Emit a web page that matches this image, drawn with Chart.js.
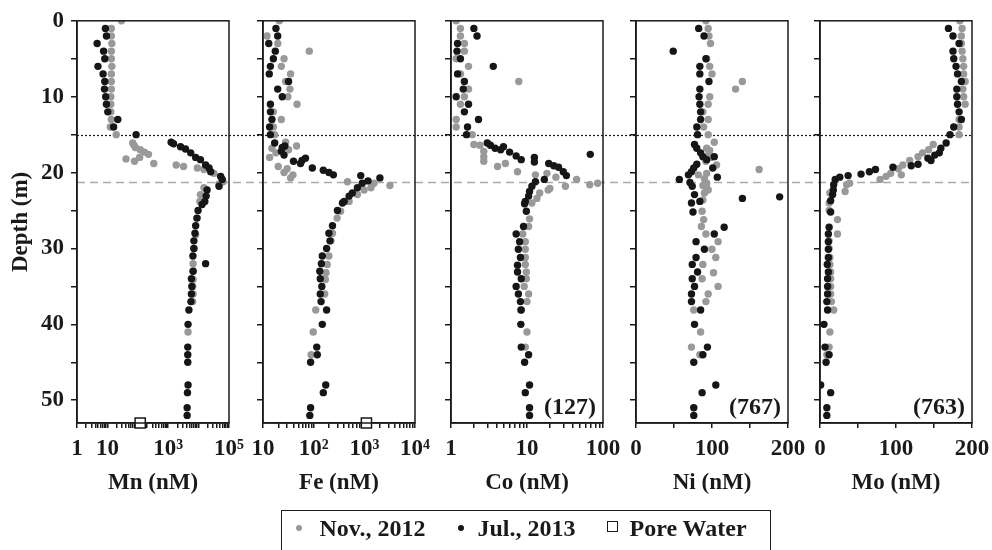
<!DOCTYPE html>
<html>
<head>
<meta charset="utf-8">
<script src="https://cdn.jsdelivr.net/npm/chart.js@4.4.1/dist/chart.umd.min.js"></script>
<style>
  body { margin: 0; width: 992px; height: 550px; position: relative; background: #fff; overflow: hidden;
         font-family: 'Liberation Serif', 'Times New Roman', serif; font-weight: bold; color: #1a1a1a; }
  canvas { position: absolute; top: 0; }
  #legend { position: absolute; left: 281px; top: 510px; width: 490px; height: 60px; box-sizing: border-box;
            border: 1.5px solid #1a1a1a; }
  #legend span { position: absolute; }
  .lt { font-size: 24px; line-height: 28px; top: 3px; white-space: nowrap; }
  .dot { width: 6px; height: 6px; border-radius: 50%; top: 14px; }
  .sq { width: 11px; height: 11px; box-sizing: border-box; border: 1.5px solid #1a1a1a; top: 10px; background: #fff; }
</style>
</head>
<body>
<canvas id="overlay" width="992" height="550"></canvas>
<div id="legend"></div>
<script>
// depth (m) and concentration (nM) per element and campaign
const depthMnNov = [0,1,2,3,4,5,6,7,8,9,10,11,12,13,14,15,16.1,16.4,16.7,17.0,17.3,17.6,18.0,18.2,18.5,18.8,19.0,19.2,19.4,19.6,20.1,20.5,21.2,21.5,22.0,22.9,23.8,26,28.2,30,32,33,34.1,35,36,37,41];
const mnNov = [29,13.5,13.5,14,13.5,13.5,14,13.5,13.5,13.5,13,13,13,13.5,12.5,19.5,68,75,83,120,165,225,115,41,78,335,1830,3200,9100,15000,32000,53000,64000,47000,15000,11500,11000,9000,8000,7000,6600,6600,6600,6400,6600,6400,4500];
const depthMnJul = [1,2,3,4,5,6,7,8,9,10,11,12,13,14,15,16,16.2,16.6,16.9,17.4,18,18.3,19,19.4,19.9,20.5,20.9,21.8,22.3,23.1,23.8,24.2,25,26,27,28,29,30,31,32,33,34,35,36,37,38.1,40,43,44,45,48,49,51,52];
const mnJul = [8.6,9.3,4.6,7.5,8.2,4.9,7.2,8.2,8,8.8,9.3,10.3,22,16,88,1250,1500,2550,3700,5500,8000,11500,17000,22000,25000,53000,60000,47000,19000,17700,16000,13000,9600,8800,8000,7600,7000,7000,6500,17000,6600,5800,6000,5800,5600,4800,4500,4400,4400,4400,4500,4300,4200,4200];

const depthFeNov = [0,2,3,4,5,6,7,8,9,10,11,12,13,14,15,16,16.5,16.8,17,17.4,18,19.2,19.5,20,20.3,20.7,21.2,21.4,21.7,22,22.3,22.9,23.8,25.1,26,28,29,31,32.1,33.2,34.1,36,38.1,41,44];
const feNov = [21,12,19.6,82,26,23,35,28,34,31,47,16,23,16,17,28,46,15,32,18,13.5,20,30,26,39,35,465,1550,3200,1350,990,730,500,340,290,235,220,200,185,175,170,165,110,98,89];
const depthFeJul = [1,2,3,4,5,6,7,8,9,10,11,12,13,14,15,16.1,16.5,16.7,17.2,17.7,18.1,18.4,18.5,18.8,19.4,19.7,20,20.3,20.4,20.7,21.1,21.4,22,22.7,23.1,23.8,24,25,27,28,29,30,31,32,33,34,35,36,37,38.1,40,43,44,45,48,49,51,52];
const feJul = [18,19.5,13,17.5,16,14,13.3,32,19.5,24,14,14,15,13.5,14,17,27,24,23,26,69,59,40,55,94,155,200,245,850,2030,1180,910,730,580,500,400,370,295,235,200,210,180,148,142,132,135,145,135,140,180,148,115,118,87,173,155,87,84];

const depthCoNov = [0,1,2,3,4,5,6,7,8,9,10,11,13,14,15,16.3,16.4,17.2,17.9,18.5,18.8,19.2,19.9,20.1,20.3,20.6,20.9,21.4,21.6,21.8,22.1,22.3,22.7,23.4,24,26.1,27.1,28.1,29.1,30.1,31.2,32.1,33.1,34,35,36,37,38.1,41,43];
const coNov = [1.17,1.33,1.33,1.5,1.5,1.17,1.7,1.33,7.8,1.7,1.5,1.33,1.17,1.17,1.9,2.0,2.4,2.7,2.7,2.7,5.2,4.1,7.5,18.3,12.9,24,45,85,67,32,20,19,14.7,13.5,11.6,10.8,10.5,8.8,9.5,9.5,9.5,9.5,9.8,9.8,9.2,10.5,10,8.2,10,9.5];
const depthCoJul = [1,2,3,4,5,6,7,8,9,10,11,12,13,14,15,16.1,16.4,16.6,16.8,17,17.3,17.6,17.8,18,18.3,18.6,18.8,19.1,19.3,19.9,20.4,20.9,21.2,21.8,22.5,23.1,23.8,24.1,25.1,27.1,28.1,29.1,30.1,31.2,32.2,33.1,34,35,36,37,38.1,40,43,44,45,48,49,51,52];
const coJul = [2.0,2.2,1.22,1.2,1.33,3.6,1.22,1.5,1.45,1.17,1.7,1.5,2.3,1.65,1.6,3.0,3.3,4.9,3.8,4.5,5.9,68,7.2,12.5,8.4,12.5,19.3,22.5,26,30,33,16.9,12.9,11.6,10.8,10.5,9.5,9.3,9.8,9.0,7.2,8.0,7.7,8.2,7.5,7.5,8.4,7.2,7.7,8.2,8.4,8.3,8.4,10.5,9.3,10.8,9.5,10.8,10.8];

const depthNiNov = [0,1,2,3,5,6,7,8,9,10,11,12,13,14,15,16,16.8,17.1,19,19.6,20.1,20.3,21.4,22,22.7,23.6,25.1,26.2,27.1,28.1,29.1,30.1,31.2,32.1,33.2,34,35,36,37,38.1,41,43,44,17.5,18,18.5,20.8,21.7,22.3];
const niNov = [92,95,96,98,93,97,100,140,131,97,95,88,95,89,95,103,93,97,106,162,93,82,93,93,90,88,87,89,86,92,108,100,105,88,102,87,108,95,92,76,85,73,84,96,99,92,90,88,95];
const depthNiJul = [1,2,4,5,6,7,8,9,10,11,12,13,14,15,16.3,16.8,17.4,17.9,17.9,18.3,18.9,19.4,19.9,20.3,20.9,21.3,21.8,22.9,24,23.8,25.2,20.6,19.4,23.4,23.2,27.2,28.1,29.1,30.1,31.2,32.1,33.1,34,35,36,37,38.1,40,43,44,45,48,49,51,52];
const niJul = [82.5,89.5,49,92,84,84,96,84,83,84,85,85,80,81,77,80,85,88,103,93,80,76,73,69,57,71,74,77,73,84,75,107,101,140,189,116,103,79,90,79,74,81,74,77,73,73,85,77,94,88,76,105,87,76,76];

const depthMoNov = [0,1,2,3,4,5,6,7,8,9,10,11,13,14,15,16.3,17,17.4,17.9,18.4,19,19.5,20.1,20.3,20.5,20.9,21.4,21.6,22.5,22.7,26.2,28.1,31.2,32.1,33.1,34,35,36,37,38.1,41,43,44,24,25,29,30];
const moNov = [184,187,186,186,187,188,189,189,191,188,189,191,183,183,183,149,143,135,129,118,109,103,93,107,87,79,39,35,33,13,23,23,13,13,14,14,14,14,15,18,13,12,9,12,12,12,12];
const depthMoJul = [1,2,3,4,5,6,7,8,9,10,11,12,13,14,15,16.1,16.8,17.4,17.7,18.1,18.4,18.9,19.1,19.3,19.6,19.9,20.2,20.4,20.6,20.9,21.6,22.3,22.9,23.7,25.2,27.2,28.1,29.1,30.1,31.2,32.1,33.1,34,35,36,37,38.1,40,43,44,45,48,49,51,52];
const moJul = [169,175,183,175,176,179,181,186,180,180,181,183,186,176,171,166,159,157,151,142,146,129,120,96,73,65,54,37,26,20,18,17.5,16.6,14,14,12,11,11,11,11,9.6,11,10,10,10,9,10,5.2,6.6,12,8,0.9,14,9,9];

// pore water (nM): off-scale values are written in brackets
const poreWater = [120, 1100, 127, 767, 763];
const poreWaterDepth = 53;
const boundaryDepths = [15, 21.2];

const seriesLabels = ['Nov., 2012', 'Jul., 2013', 'Pore Water'];
const elements = ['Mn', 'Fe', 'Co', 'Ni', 'Mo'];
const mnTickValues = [1, 10, 1000, 100000], mnTickLabels = ['1', '10', '10³', '10⁵'];
const feTickValues = [10, 100, 1000, 10000], feTickLabels = ['10', '10²', '10³', '10⁴'];
const coTickValues = [1, 10, 100], coTickLabels = ['1', '10', '100'];
const niTickValues = [0, 100, 200], niTickLabels = ['0', '100', '200'];
const moTickValues = [0, 100, 200], moTickLabels = ['0', '100', '200'];
const depthTicks = [0, 5, 10, 15, 20, 25, 30, 35, 40, 45, 50];

const GREY = '#999999', BLACK = '#161616', INK = '#1a1a1a';
const FONT = "'Liberation Serif', 'Times New Roman', serif";
const plotLeft = [77, 263, 451, 636, 820];
const plotWidth = 152;

const panels = [
  { type: 'logarithmic', min: 1, max: 1e5, nov: [depthMnNov, mnNov], jul: [depthMnJul, mnJul], tv: mnTickValues, tl: mnTickLabels },
  { type: 'logarithmic', min: 10, max: 1e4, nov: [depthFeNov, feNov], jul: [depthFeJul, feJul], tv: feTickValues, tl: feTickLabels },
  { type: 'logarithmic', min: 1, max: 100, nov: [depthCoNov, coNov], jul: [depthCoJul, coJul], tv: coTickValues, tl: coTickLabels },
  { type: 'linear', min: 0, max: 200, step: 50, nov: [depthNiNov, niNov], jul: [depthNiJul, niJul], tv: niTickValues, tl: niTickLabels },
  { type: 'linear', min: 0, max: 200, step: 50, nov: [depthMoNov, moNov], jul: [depthMoJul, moJul], tv: moTickValues, tl: moTickLabels }
];

Chart.defaults.font.family = FONT;
Chart.defaults.font.weight = 'bold';
Chart.defaults.font.size = 23;
Chart.defaults.color = INK;

function pts(pair) {
  return pair[0].map((d, i) => ({ x: pair[1][i], y: d }));
}

// tick mark positions (labels only on some of them)
function tickPositions(p) {
  const out = [];
  if (p.type === 'logarithmic') {
    const e0 = Math.round(Math.log10(p.min)), e1 = Math.round(Math.log10(p.max));
    for (let e = e0; e < e1; e++) {
      for (let d = 1; d < 10; d++) out.push(d * Math.pow(10, e));
    }
    out.push(p.max);
  } else {
    for (let v = p.min; v <= p.max; v += p.step) out.push(v);
  }
  return out;
}

function tickLabel(p, v) {
  const i = p.tv.findIndex(t => Math.abs(t - v) < 1e-6 * Math.max(1, t));
  return i >= 0 ? p.tl[i] : '';
}

const framePlugin = {
  id: 'frame',
  afterDraw(chart) {
    const { ctx, chartArea: a } = chart;
    ctx.save();
    ctx.strokeStyle = INK;
    ctx.lineWidth = 1.5;
    ctx.strokeRect(a.left, a.top, a.right - a.left, a.bottom - a.top);
    const i = chart.options.panelIndex;
    const pw = poreWater[i];
    if (pw > panels[i].max) {
      ctx.fillStyle = INK;
      ctx.font = 'bold 24px ' + FONT;
      ctx.textAlign = 'right';
      ctx.textBaseline = 'middle';
      ctx.fillText('(' + pw + ')', a.right - 7, a.bottom - 15);
    }
    ctx.restore();
  }
};

const canvasLeft = [];
const charts = panels.map((p, i) => {
  const axW = i === 0 ? 77 : 24;
  const canvas = document.createElement('canvas');
  canvas.width = axW + plotWidth + 34;
  canvas.height = 550;
  canvasLeft.push(plotLeft[i] - axW);
  canvas.style.left = (plotLeft[i] - axW) + 'px';
  document.body.appendChild(canvas);

  const datasets = [
    { label: seriesLabels[1], data: pts(p.jul), backgroundColor: BLACK, borderWidth: 0, pointRadius: 3.7, order: 0 },
    { label: seriesLabels[0], data: pts(p.nov), backgroundColor: GREY, borderWidth: 0, pointRadius: 3.7, order: 1 }
  ];
  if (poreWater[i] <= p.max) {
    datasets.push({ label: seriesLabels[2], data: [{ x: poreWater[i], y: poreWaterDepth }], pointStyle: 'rect',
      pointRadius: 7.2, backgroundColor: '#fff', borderColor: INK, borderWidth: 1.5, clip: false, order: -1 });
  }

  return new Chart(canvas, {
    type: 'scatter',
    data: { datasets },
    plugins: [framePlugin],
    options: {
      panelIndex: i,
      responsive: false,
      animation: false,
      events: [],
      layout: { padding: { left: 0, right: 34, top: 19, bottom: 50 } },
      plugins: { legend: { display: false }, tooltip: { enabled: false } },
      scales: {
        x: {
          type: p.type, min: p.min, max: p.max, position: 'bottom',
          afterBuildTicks: s => { s.ticks = tickPositions(p).map(v => ({ value: v })); },
          afterFit: s => { s.height = 77; },
          ticks: { autoSkip: false, maxRotation: 0, padding: 7, callback: v => tickLabel(p, v) },
          grid: { drawOnChartArea: false, drawTicks: true, tickLength: 5, color: INK, lineWidth: 1.5 },
          border: { color: INK, width: 1.5 },
          title: { display: true, text: elements[i] + ' (nM)', padding: { top: 0, bottom: 3 } }
        },
        y: {
          type: 'linear', reverse: true, min: 0, max: poreWaterDepth,
          afterBuildTicks: s => { s.ticks = depthTicks.map(v => ({ value: v })); },
          afterFit: s => { s.width = axW; },
          ticks: { autoSkip: false, padding: 7, callback: v => (i === 0 && v % 10 === 0) ? String(v) : '' },
          grid: { drawOnChartArea: false, drawTicks: true, tickLength: 6, color: INK, lineWidth: 1.5 },
          border: { color: INK, width: 1.5 },
          title: { display: i === 0, text: 'Depth (m)', padding: { top: 7, bottom: 0 } }
        }
      }
    }
  });
});

// horizontal boundary lines across all panels
(function drawBoundaries() {
  const ctx = document.getElementById('overlay').getContext('2d');
  const x0 = canvasLeft[0] + charts[0].chartArea.left;
  const x1 = canvasLeft[4] + charts[4].chartArea.right;
  const styles = [
    { color: '#1a1a1a', width: 1.2, dash: [2, 2] },
    { color: '#aaaaaa', width: 1.5, dash: [8, 5] }
  ];
  boundaryDepths.forEach((d, k) => {
    const y = Math.round(charts[0].scales.y.getPixelForValue(d)) + 0.5;
    ctx.save();
    ctx.strokeStyle = styles[k].color;
    ctx.lineWidth = styles[k].width;
    ctx.setLineDash(styles[k].dash);
    ctx.beginPath();
    ctx.moveTo(x0, y);
    ctx.lineTo(x1, y);
    ctx.stroke();
    ctx.restore();
  });
})();

// legend
(function buildLegend() {
  const lg = document.getElementById('legend');
  const items = [
    ['dot', GREY, 13.5, 37.5],
    ['dot', BLACK, 175.5, 195.5],
    ['sq', null, 325, 347.5]
  ];
  items.forEach((it, k) => {
    const m = document.createElement('span');
    m.className = it[0];
    m.style.left = it[2] + 'px';
    if (it[1]) m.style.background = it[1];
    lg.appendChild(m);
    const t = document.createElement('span');
    t.className = 'lt';
    t.style.left = it[3] + 'px';
    t.textContent = seriesLabels[k];
    lg.appendChild(t);
  });
})();
</script>
</body>
</html>
